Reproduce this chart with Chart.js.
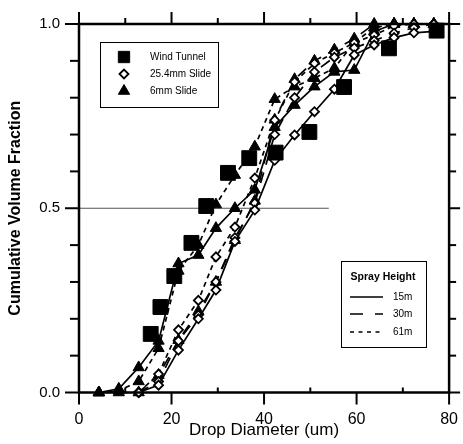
<!DOCTYPE html>
<html><head><meta charset="utf-8">
<script src="https://cdn.jsdelivr.net/npm/chart.js@4/dist/chart.umd.min.js"></script>
<style>html,body{margin:0;padding:0;background:#fff;}canvas{display:block;}</style>
</head><body>
<canvas id="c" width="463" height="444"></canvas>
<script>
// ---- data ----
const binX = [4.3, 8.6, 12.9, 17.2, 21.5, 25.8, 29.6, 33.7, 38.0, 42.3, 46.6, 50.9, 55.2, 59.5, 63.8, 68.1, 72.4, 76.7];
const diamondX = [12.9, 17.2, 21.5, 25.8, 29.6, 33.7, 38.0, 42.3, 46.6, 50.9, 55.2, 59.5, 63.8, 68.1, 72.4, 76.7];

const windTunnelX = [15.5, 17.6, 20.6, 24.3, 27.5, 32.2, 36.8, 42.5, 49.8, 57.3, 67.0, 77.3];
const windTunnelY = [0.159, 0.232, 0.316, 0.406, 0.506, 0.596, 0.636, 0.651, 0.707, 0.829, 0.934, 0.982];

const slide25_15m = [0, 0.02, 0.115, 0.2, 0.278, 0.41, 0.495, 0.63, 0.699, 0.762, 0.823, 0.916, 0.943, 0.963, 0.976, 0.98];
const slide25_30m = [0, 0.03, 0.14, 0.21, 0.30, 0.42, 0.514, 0.70, 0.80, 0.87, 0.91, 0.935, 0.955, 0.975, 0.99, 1.0];
const slide25_61m = [0, 0.05, 0.17, 0.25, 0.368, 0.449, 0.582, 0.739, 0.843, 0.893, 0.922, 0.949, 0.97, 0.995, 1.0, 1.0];

const slide6_15m = [0, 0.01, 0.068, 0.14, 0.35, 0.373, 0.446, 0.5, 0.55, 0.72, 0.78, 0.83, 0.87, 0.875, 0.98, 1.0, 1.0, 1.0];
const slide6_30m = [0, 0, 0, 0.047, 0.142, 0.22, 0.3, 0.413, 0.52, 0.74, 0.85, 0.9, 0.93, 0.96, 1.0, 1.0, 1.0, 1.0];
const slide6_61m = [0, 0.005, 0.03, 0.12, 0.33, 0.40, 0.51, 0.59, 0.667, 0.796, 0.83, 0.853, 0.88, 0.95, 0.99, 1.0, 1.0, 1.0];

const refLineX = [0, 54];
const refLineY = [0.5, 0.5];

const xLabelTicks = [0, 20, 40, 60, 80];
const yLabelTicks = [0.0, 0.5, 1.0];
const methodLabels = ['Wind Tunnel', '25.4mm Slide', '6mm Slide'];
const heightLabels = ['15m', '30m', '61m'];
const heightTitle = 'Spray Height';
const xTitle = 'Drop Diameter (um)';
const yTitle = 'Cumulative Volume Fraction';

// ---- build ----
const pts = (xs, ys) => xs.map((x, i) => ({x, y: ys[i]}));
const dashes = [[], [11, 8], [5, 4]];
const FONT = "'Liberation Sans', Arial, sans-serif";

function lineSet(label, xs, ys, dashIdx, style) {
  const base = {
    label, data: pts(xs, ys), borderColor: '#000', borderWidth: 1.7,
    borderDash: dashes[dashIdx], tension: 0, clip: false, showLine: true,
    pointBorderColor: '#000'
  };
  if (style === 'diamond') {
    Object.assign(base, {pointStyle: 'rectRot', pointRadius: 4.5, pointBackgroundColor: '#fff', pointBorderWidth: 1.8});
  } else {
    Object.assign(base, {pointStyle: 'triangle', pointRadius: 6.5, pointBackgroundColor: '#000', pointBorderWidth: 1});
  }
  return base;
}

const datasets = [
  {label: methodLabels[0], data: pts(windTunnelX, windTunnelY), showLine: false, pointStyle: 'rect',
   pointRadius: 10.5, pointBackgroundColor: '#000', pointBorderColor: '#000', pointBorderWidth: 1, clip: false},
  lineSet(methodLabels[1] + ' ' + heightLabels[0], diamondX, slide25_15m, 0, 'diamond'),
  lineSet(methodLabels[1] + ' ' + heightLabels[1], diamondX, slide25_30m, 1, 'diamond'),
  lineSet(methodLabels[1] + ' ' + heightLabels[2], diamondX, slide25_61m, 2, 'diamond'),
  lineSet(methodLabels[2] + ' ' + heightLabels[0], binX, slide6_15m, 0, 'triangle'),
  lineSet(methodLabels[2] + ' ' + heightLabels[1], binX, slide6_30m, 1, 'triangle'),
  lineSet(methodLabels[2] + ' ' + heightLabels[2], binX, slide6_61m, 2, 'triangle'),
  {label: 'ref', data: pts(refLineX, refLineY), showLine: true, borderColor: '#555', borderWidth: 1,
   pointRadius: 0, clip: false}
];

function seg(ctx, x1, y1, x2, y2) { ctx.beginPath(); ctx.moveTo(x1, y1); ctx.lineTo(x2, y2); ctx.stroke(); }

const framePlugin = {
  id: 'frame',
  afterDraw(chart) {
    const {ctx, chartArea: a, scales: {x, y}} = chart;
    ctx.save();
    ctx.strokeStyle = '#000';
    ctx.setLineDash([]);
    ctx.lineWidth = 2.5;
    ctx.strokeRect(a.left, a.top, a.right - a.left, a.bottom - a.top);
    ctx.lineWidth = 2;
    for (let v = 0; v <= 80; v += 10) {
      const px = x.getPixelForValue(v);
      const major = v % 20 === 0;
      if (major) seg(ctx, px, a.bottom, px, a.bottom + 12); else seg(ctx, px, a.bottom, px, a.bottom - 5);
      seg(ctx, px, a.top, px, a.top - (major ? 12 : 6));
    }
    for (let i = 0; i <= 10; i++) {
      const py = y.getPixelForValue(i / 10);
      const major = i % 5 === 0;
      seg(ctx, a.left - (major ? 14 : 9), py, a.left, py);
      seg(ctx, a.right, py, a.right + (major ? 11 : 7), py);
    }

    // legend 1: methods
    ctx.lineWidth = 1;
    ctx.fillStyle = '#fff';
    ctx.fillRect(100, 42, 118, 65);
    ctx.strokeRect(100.5, 42.5, 118, 65);
    const styles = [
      {pointStyle: 'rect', radius: 8, borderWidth: 1, fill: '#000'},
      {pointStyle: 'rectRot', radius: 4.5, borderWidth: 1.8, fill: '#fff'},
      {pointStyle: 'triangle', radius: 6.5, borderWidth: 1, fill: '#000'}
    ];
    const ly = [57, 74, 91];
    ctx.font = '10px ' + FONT;
    ctx.textBaseline = 'middle';
    ctx.textAlign = 'left';
    styles.forEach((s, i) => {
      ctx.fillStyle = s.fill; ctx.strokeStyle = '#000'; ctx.lineWidth = s.borderWidth;
      Chart.helpers.drawPoint(ctx, {pointStyle: s.pointStyle, radius: s.radius, borderWidth: s.borderWidth, rotation: 0}, 124, ly[i]);
      ctx.fillStyle = '#000';
      ctx.fillText(methodLabels[i], 150, ly[i]);
    });

    // legend 2: spray heights
    ctx.lineWidth = 1;
    ctx.fillStyle = '#fff';
    ctx.fillRect(341, 261, 85, 86);
    ctx.strokeStyle = '#000';
    ctx.strokeRect(341.5, 261.5, 85, 86);
    ctx.fillStyle = '#000';
    ctx.font = 'bold 10.5px ' + FONT;
    ctx.textAlign = 'center';
    ctx.fillText(heightTitle, 383, 277);
    ctx.font = '10px ' + FONT;
    ctx.textAlign = 'left';
    const hy = [297, 314, 332];
    const legDash = [[], [13, 12], [4, 4.5]];
    heightLabels.forEach((t, i) => {
      ctx.lineWidth = 1.7;
      ctx.setLineDash(legDash[i]);
      seg(ctx, 350, hy[i], 383, hy[i]);
      ctx.setLineDash([]);
      ctx.fillText(t, 393, hy[i]);
    });
    ctx.restore();
  }
};

new Chart(document.getElementById('c'), {
  type: 'line',
  data: {datasets},
  plugins: [framePlugin],
  options: {
    responsive: false,
    animation: false,
    devicePixelRatio: 1,
    layout: {padding: {top: 24, right: 10.5, left: 0, bottom: 0}},
    plugins: {legend: {display: false}, tooltip: {enabled: false}},
    scales: {
      x: {
        type: 'linear', min: 0, max: 80,
        afterFit: s => { s.height = 51.5; },
        afterBuildTicks: s => { s.ticks = [0,10,20,30,40,50,60,70,80].map(v => ({value: v})); },
        ticks: {
          autoSkip: false, maxRotation: 0, padding: 5, color: '#000',
          font: {family: FONT, size: 16},
          callback: v => xLabelTicks.includes(v) ? String(v) : ''
        },
        grid: {drawOnChartArea: false, drawTicks: true, tickLength: 12, color: 'rgba(0,0,0,0)'},
        border: {display: false},
        title: {display: true, text: xTitle, color: '#000', font: {family: FONT, size: 17}, padding: {top: 0, bottom: 3}}
      },
      y: {
        type: 'linear', min: 0, max: 1,
        afterFit: s => { s.width = 79; },
        afterBuildTicks: s => { s.ticks = [0,0.1,0.2,0.3,0.4,0.5,0.6,0.7,0.8,0.9,1.0].map(v => ({value: v})); },
        ticks: {
          autoSkip: false, padding: 5, color: '#000',
          font: {family: FONT, size: 15},
          callback: v => yLabelTicks.some(t => Math.abs(t - v) < 1e-9) ? v.toFixed(1) : ''
        },
        grid: {drawOnChartArea: false, drawTicks: true, tickLength: 14, color: 'rgba(0,0,0,0)'},
        border: {display: false},
        title: {display: true, text: yTitle, color: '#000', font: {family: FONT, size: 16, weight: 'bold'}, padding: {top: 6, bottom: 0}}
      }
    }
  }
});
</script>
</body></html>
